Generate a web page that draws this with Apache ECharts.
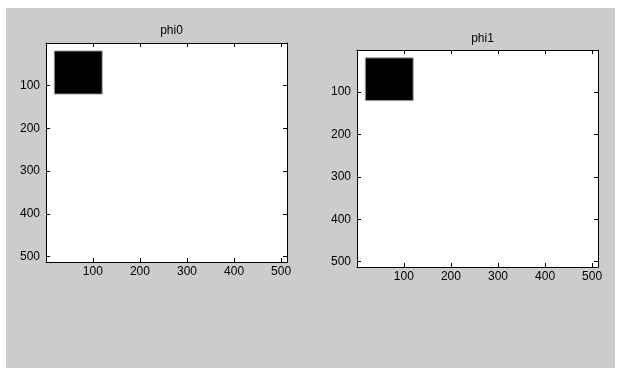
<!DOCTYPE html>
<html>
<head>
<meta charset="utf-8">
<script src="https://cdn.jsdelivr.net/npm/echarts@6/dist/echarts.min.js"></script>
<style>
html,body{margin:0;padding:0;background:#fff;}
#wrap{position:relative;width:617px;height:368px;background:#fff;overflow:hidden;}
#bg{position:absolute;left:6px;top:8px;width:609px;height:360px;background:#cccccc;}
#c{position:absolute;left:0;top:0;width:617px;height:368px;}
</style>
</head>
<body>
<div id="wrap"><div id="bg"></div><div id="c"></div></div>
<script>
// Data
const titles = ['phi0', 'phi1'];
const imageSize = 512;
const tickValues = [100, 200, 300, 400, 500];
// black square region in each image: [xStart, yStart, xEnd, yEnd] (pixel indices)
const phi0Square = [18, 19, 120, 120];
const phi1Square = [18, 19, 120, 120];
const squares = [phi0Square, phi1Square];

const chart = echarts.init(document.getElementById('c'), null, {renderer: 'canvas'});
const font = 'Liberation Sans, Arial, sans-serif';
const grids = [
  {left: 46, top: 43, width: 241, height: 219},
  {left: 357, top: 50, width: 241, height: 217}
];
const titleTops = [20, 28];

const xAxes = [], yAxes = [], series = [], titleComps = [];
grids.forEach((g, i) => {
  titleComps.push({
    text: titles[i], left: g.left + g.width / 2, top: titleTops[i], textAlign: 'center',
    textStyle: {fontSize: 12, fontWeight: 'normal', color: '#000', fontFamily: font}
  });
  const base = {
    type: 'value', gridIndex: i, min: 0.5, max: imageSize + 0.5,
    splitLine: {show: false},
    axisLine: {show: true, onZero: false, lineStyle: {color: '#000', width: 1}},
    axisTick: {show: true, inside: true, length: 4, lineStyle: {color: '#000'}, customValues: tickValues},
    axisLabel: {show: true, customValues: tickValues, color: '#000', fontSize: 12, fontFamily: font}
  };
  xAxes.push(Object.assign({}, base, {position: 'bottom', axisLabel: Object.assign({}, base.axisLabel, {margin: 4})}));
  xAxes.push(Object.assign({}, base, {position: 'top', axisLabel: {show: false}}));
  yAxes.push(Object.assign({}, base, {position: 'left', inverse: true, axisLabel: Object.assign({}, base.axisLabel, {margin: 6})}));
  yAxes.push(Object.assign({}, base, {position: 'right', inverse: true, axisLabel: {show: false}}));
  series.push({
    type: 'custom',
    xAxisIndex: i * 2, yAxisIndex: i * 2,
    data: [squares[i]],
    encode: {x: [0, 2], y: [1, 3]},
    renderItem: function (params, api) {
      const p0 = api.coord([api.value(0), api.value(1)]);
      const p1 = api.coord([api.value(2), api.value(3)]);
      return {
        type: 'rect',
        shape: {x: Math.min(p0[0], p1[0]), y: Math.min(p0[1], p1[1]),
                width: Math.abs(p1[0] - p0[0]), height: Math.abs(p1[1] - p0[1])},
        style: {fill: '#000', stroke: '#aaa', lineWidth: 1}
      };
    },
    silent: true
  });
});

chart.setOption({
  backgroundColor: 'transparent',
  animation: false,
  title: titleComps,
  grid: grids.map(g => Object.assign({show: true, backgroundColor: '#fff', borderWidth: 0}, g)),
  xAxis: xAxes,
  yAxis: yAxes,
  series: series
});
</script>
</body>
</html>
